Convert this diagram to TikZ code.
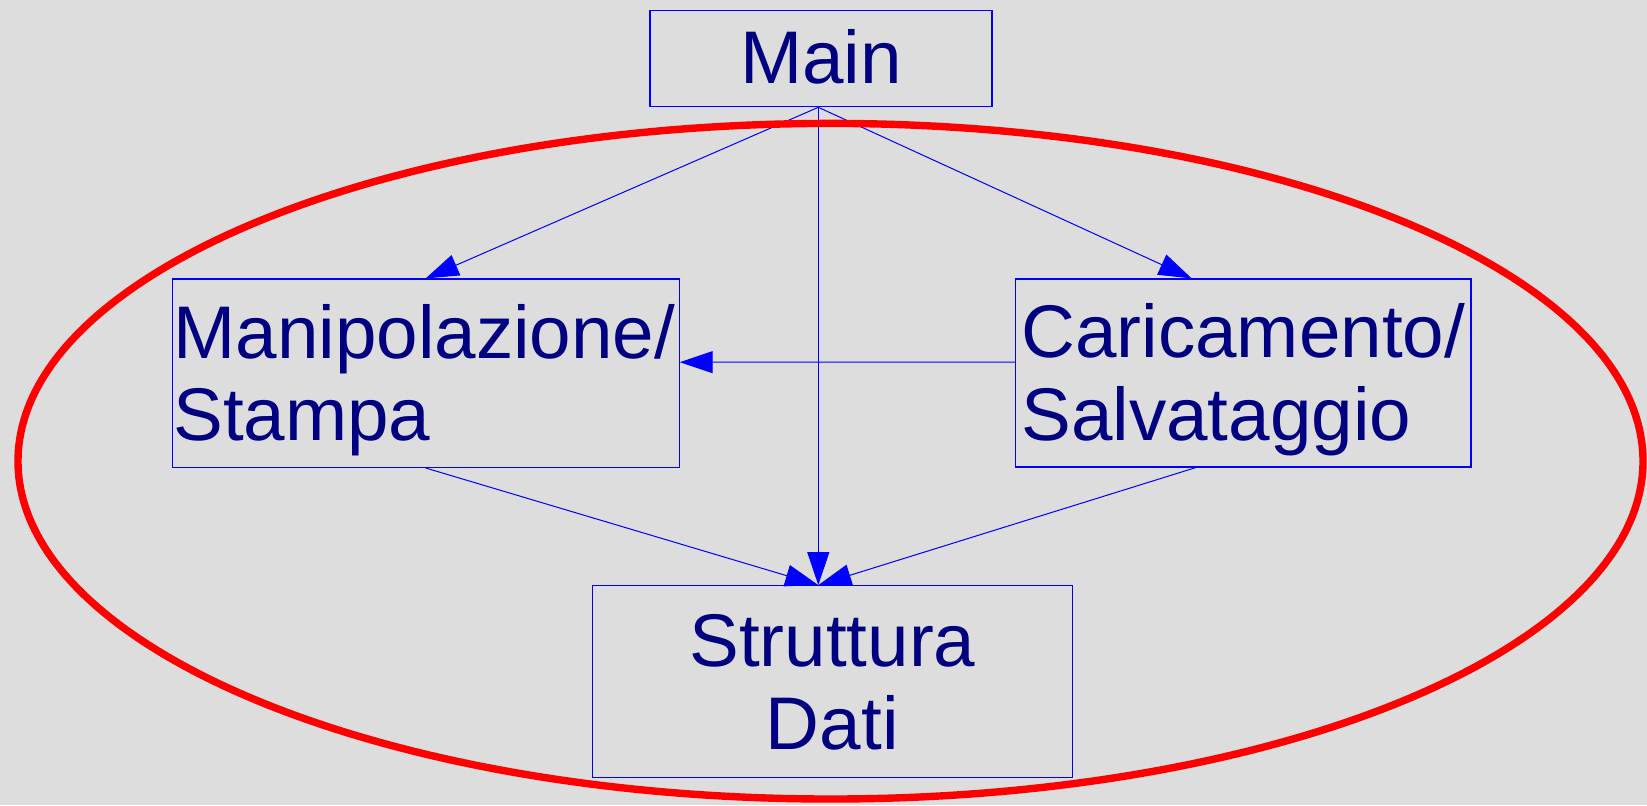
\documentclass[tikz,border=0pt]{standalone}
\usepackage{fontspec}
\setmainfont{Liberation Sans}
\usetikzlibrary{arrows.meta, positioning, calc}
\definecolor{bggrey}{RGB}{221,221,221}
\definecolor{boxblue}{RGB}{0,0,255}
\definecolor{textnavy}{RGB}{0,0,128}
\definecolor{ringred}{RGB}{255,0,0}

\begin{document}
\begin{tikzpicture}[x=0.5pt, y=-0.5pt,
  box/.style={draw=boxblue, line width=0.6pt, inner sep=0pt},
  lbl/.style={text=textnavy, inner sep=0pt, font=\fontsize{37.3}{41}\selectfont},
  arr/.style={draw=boxblue, line width=0.5pt, -{Triangle[length=16.5pt, width=11pt]}}]
  % Background
  \fill[bggrey] (0,0) rectangle (1647,805);
  \useasboundingbox (0,0) rectangle (1647,805);

  % Module boxes
  \node[box, minimum width=171pt, minimum height=48.2pt] (main) at (821,58.5) {};
  \node[box, minimum width=253.4pt, minimum height=94.2pt] (manip) at (425.7,373.2) {};
  \node[box, minimum width=227.7pt, minimum height=94pt] (car) at (1243.3,373) {};
  \node[box, minimum width=240pt, minimum height=95.8pt] (data) at (832.3,681.5) {};

  % Labels
  \node[lbl, anchor=base] (tmain) at (821,83.3) {Main};
  \node[lbl, anchor=base west] (tmanipa) at (173,358.3) {Manipolazione/};
  \node[lbl, anchor=base west] (tmanipb) at (173,440) {Stampa};
  \node[lbl, anchor=base west] (tcara) at (1021,357.3) {Caricamento/};
  \node[lbl, anchor=base west] (tcarb) at (1021,440.7) {Salvataggio};
  \node[lbl, anchor=base] (tdataa) at (832.3,666) {Struttura};
  \node[lbl, anchor=base] (tdatab) at (832.3,749.3) {Dati};

  % Dependencies
  \coordinate (hub) at ([xshift=-1.35pt]main.south);
  \coordinate (dtop) at (hub |- data.north);
  \draw[arr] (hub) -- (manip.north);
  \draw[arr] (hub) -- ([xshift=-25.8pt]car.north);
  \draw[arr] (hub) -- (dtop);
  \draw[arr] (manip.south) -- (dtop);
  \draw[arr] ([xshift=-23.8pt]car.south) -- (dtop);
  \draw[arr] ([yshift=5.5pt]car.west) -- ([yshift=5.5pt]manip.east);

  % Ring round the lower modules
  \draw[ringred, line width=3.7pt] (830.5,461.2) ellipse [x radius=406.25pt, y radius=168.9pt];
\end{tikzpicture}
\end{document}
